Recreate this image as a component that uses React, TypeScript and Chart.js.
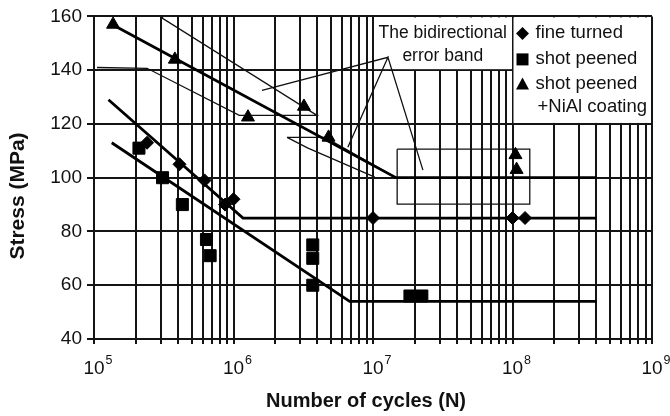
import React, { useEffect, useRef } from 'react';
import { Chart, registerables } from 'chart.js';

Chart.register(...registerables);

// ---- measured data (N = cycles, S = stress in MPa) ----
const fineTurnedN = [2.4e5, 4.1e5, 6.2e5, 8.7e5, 1.0e6, 1.0e7, 1.0e8, 1.23e8];
const fineTurnedS = [113, 105, 99, 90, 92, 85, 85, 85];

const shotPeenedN = [2.1e5, 3.1e5, 4.3e5, 6.4e5, 6.8e5, 3.7e6, 3.7e6, 3.7e6, 1.84e7, 2.24e7];
const shotPeenedS = [111, 100, 90, 77, 71, 75, 70, 60, 56, 56];

const coatedN = [1.37e5, 3.8e5, 1.27e6, 3.2e6, 4.8e6, 1.05e8, 1.07e8];
const coatedS = [157, 144, 122.5, 126.5, 115, 108.5, 103];

// ---- fitted S-N curves ----
const fineTurnedFitN = [1.27e5, 1.17e6, 4e8];
const fineTurnedFitS = [129, 85, 85];
const shotPeenedFitN = [1.34e5, 6.8e6, 4e8];
const shotPeenedFitS = [113, 54, 54];
const coatedFitN = [1.35e5, 1.46e7, 4e8];
const coatedFitS = [157, 100, 100];

// ---- error band outlines ----
const bandN = [1.05e5, 2.4e5, 1.1e6, 3.97e6, 3.1e5, 3.1e5];
const bandS = [141, 140.7, 123.2, 123.2, 159.3, 160];
const kneeBandUpperN = [2.42e6, 4.53e6, 1.44e7];
const kneeBandUpperS = [115, 115, 100.2];
const kneeBandLowerN = [2.42e6, 3.42e6, 1.03e7];
const kneeBandLowerS = [115, 111, 100.2];
const bandBoxN = [1.49e7, 1.33e8, 1.33e8, 1.49e7, 1.49e7];
const bandBoxS = [110.6, 110.6, 90.2, 90.2, 110.6];
const pointerN = [1.6e6, 1.28e7, 6.6e6, 1.28e7, 2.28e7];
const pointerS = [132.5, 144.8, 111.3, 144.8, 102.8];

// ---- axes ----
const xDecades = [5, 6, 7, 8, 9];
const yMin = 40;
const yMax = 160;
const yStep = 20;

const seriesLabels = ['fine turned', 'shot peened', 'shot peened', '+NiAl coating'];
const annotationText = ['The bidirectional', 'error band'];
const xTitle = 'Number of cycles (N)';
const yTitle = 'Stress (MPa)';

const FONT = "'Liberation Sans', Arial, Helvetica, sans-serif";
const GRID = '#141414';

function pts(xs: number[], ys: number[]) {
  return xs.map((x, i) => ({ x, y: ys[i] }));
}

export default function App() {
  const ref = useRef<HTMLCanvasElement>(null);

  useEffect(() => {
    const canvas = ref.current!;

    const xGridValues: number[] = [];
    for (let d = xDecades[0]; d < xDecades[xDecades.length - 1]; d++) {
      for (let k = 1; k <= 9; k++) xGridValues.push(k * Math.pow(10, d));
    }
    xGridValues.push(Math.pow(10, xDecades[xDecades.length - 1]));

    const thin = (xs: number[], ys: number[]) => ({
      data: pts(xs, ys),
      showLine: true,
      borderColor: '#111',
      borderWidth: 1.3,
      pointRadius: 0,
      fill: false,
      tension: 0,
    });
    const thick = (xs: number[], ys: number[]) => ({
      data: pts(xs, ys),
      showLine: true,
      borderColor: '#000',
      borderWidth: 2.8,
      pointRadius: 0,
      fill: false,
      tension: 0,
    });
    const marks = (xs: number[], ys: number[], style: string, r: number) => ({
      data: pts(xs, ys),
      showLine: false,
      pointStyle: style,
      pointRadius: r,
      pointBackgroundColor: '#000',
      pointBorderColor: '#000',
      pointBorderWidth: 1,
    });

    const overlay = {
      id: 'overlay',
      beforeDatasetsDraw(chart: any) {
        const ctx = chart.ctx as CanvasRenderingContext2D;
        const xs = chart.scales.x;
        const ys = chart.scales.y;
        ctx.save();
        // annotation text box
        const bx1 = xs.getPixelForValue(1e7), bx2 = xs.getPixelForValue(1e8);
        const by1 = ys.getPixelForValue(160), by2 = ys.getPixelForValue(140);
        ctx.fillStyle = '#fff';
        ctx.fillRect(bx1 + 1, by1 + 1, bx2 - bx1 - 2, by2 - by1 - 2);
        // legend box
        const lx1 = xs.getPixelForValue(1e8), lx2 = xs.getPixelForValue(1e9);
        const ly1 = ys.getPixelForValue(160), ly2 = ys.getPixelForValue(120);
        ctx.fillRect(lx1 + 1, ly1 + 1, lx2 - lx1 - 2, ly2 - ly1 - 2);

        ctx.fillStyle = '#111';
        ctx.textBaseline = 'middle';
        ctx.textAlign = 'center';
        ctx.font = `17.5px ${FONT}`;
        const cx = (bx1 + bx2) / 2;
        ctx.fillText(annotationText[0], cx, by1 + 17);
        ctx.fillText(annotationText[1], cx, by1 + 40);

        // legend
        ctx.font = `18.5px ${FONT}`;
        ctx.textAlign = 'left';
        const sx = lx1 + 10;
        const tx = lx1 + 23;
        const rows = [ly1 + 17, ly1 + 43, ly1 + 68, ly1 + 91];
        ctx.fillStyle = '#000';
        // diamond
        ctx.beginPath();
        ctx.moveTo(sx, rows[0] - 6.5);
        ctx.lineTo(sx + 6.5, rows[0]);
        ctx.lineTo(sx, rows[0] + 6.5);
        ctx.lineTo(sx - 6.5, rows[0]);
        ctx.closePath();
        ctx.fill();
        // square
        ctx.fillRect(sx - 6, rows[1] - 6, 12, 12);
        // triangle
        ctx.beginPath();
        ctx.moveTo(sx, rows[2] - 7);
        ctx.lineTo(sx + 6.5, rows[2] + 5);
        ctx.lineTo(sx - 6.5, rows[2] + 5);
        ctx.closePath();
        ctx.fill();
        ctx.fillStyle = '#111';
        ctx.fillText(seriesLabels[0], tx, rows[0]);
        ctx.fillText(seriesLabels[1], tx, rows[1]);
        ctx.fillText(seriesLabels[2], tx, rows[2]);
        ctx.fillText(seriesLabels[3], tx + 2, rows[3]);
        ctx.restore();
      },
      afterDraw(chart: any) {
        const ctx = chart.ctx as CanvasRenderingContext2D;
        const xs = chart.scales.x;
        const area = chart.chartArea;
        ctx.save();
        ctx.fillStyle = '#111';
        ctx.textBaseline = 'alphabetic';
        // x tick labels 10^n
        for (const d of xDecades) {
          const px = xs.getPixelForValue(Math.pow(10, d));
          ctx.font = `19px ${FONT}`;
          const w1 = ctx.measureText('10').width;
          ctx.textAlign = 'left';
          const start = px - w1 / 2;
          ctx.fillText('10', start, area.bottom + 35);
          ctx.font = `12.5px ${FONT}`;
          ctx.fillText(String(d), start + w1 + 1, area.bottom + 25);
        }
        // axis titles
        ctx.font = `bold 20px ${FONT}`;
        ctx.textAlign = 'center';
        ctx.textBaseline = 'middle';
        ctx.fillText(xTitle, 366, 401);
        ctx.font = `bold 21px ${FONT}`;
        ctx.translate(18, 196);
        ctx.rotate(-Math.PI / 2);
        ctx.fillText(yTitle, 0, 0);
        ctx.restore();
      },
    };

    const chart = new Chart(canvas, {
      type: 'scatter',
      data: {
        datasets: [
          marks(fineTurnedN, fineTurnedS, 'rectRot', 6.5),
          marks(shotPeenedN, shotPeenedS, 'rect', 8.5),
          marks(coatedN, coatedS, 'triangle', 7.5),
          thick(fineTurnedFitN, fineTurnedFitS),
          thick(shotPeenedFitN, shotPeenedFitS),
          thick(coatedFitN, coatedFitS),
          thin(bandN, bandS),
          thin(kneeBandUpperN, kneeBandUpperS),
          thin(kneeBandLowerN, kneeBandLowerS),
          thin(bandBoxN, bandBoxS),
          thin(pointerN, pointerS),
        ] as any,
      },
      options: {
        animation: false,
        responsive: false,
        maintainAspectRatio: false,
        layout: { padding: { left: 0, top: 16, right: 18, bottom: 0 } },
        plugins: {
          legend: { display: false },
          tooltip: { enabled: false },
          title: { display: false },
        },
        scales: {
          x: {
            type: 'logarithmic',
            min: Math.pow(10, xDecades[0]),
            max: Math.pow(10, xDecades[xDecades.length - 1]),
            afterBuildTicks: (s: any) => {
              s.ticks = xGridValues.map((v) => ({ value: v }));
            },
            afterFit: (s: any) => {
              s.height = 77;
            },
            ticks: {
              autoSkip: false,
              maxRotation: 0,
              minRotation: 0,
              callback: () => '',
              font: { size: 1 },
            },
            grid: { color: GRID, lineWidth: 2, tickLength: 5, drawTicks: true },
            border: { color: GRID, width: 2 },
          },
          y: {
            min: yMin,
            max: yMax,
            afterFit: (s: any) => {
              s.width = 94;
            },
            ticks: {
              stepSize: yStep,
              color: '#111',
              padding: 5,
              font: { family: FONT, size: 19 },
            },
            grid: { color: GRID, lineWidth: 2, tickLength: 7, drawTicks: true },
            border: { color: GRID, width: 2 },
          },
        },
      } as any,
      plugins: [overlay],
    });

    return () => chart.destroy();
  }, []);

  return (
    <div style={{ position: 'fixed', left: 0, top: 0, width: 670, height: 416, background: '#fff' }}>
      <canvas ref={ref} width={670} height={416} style={{ display: 'block' }} />
    </div>
  );
}
